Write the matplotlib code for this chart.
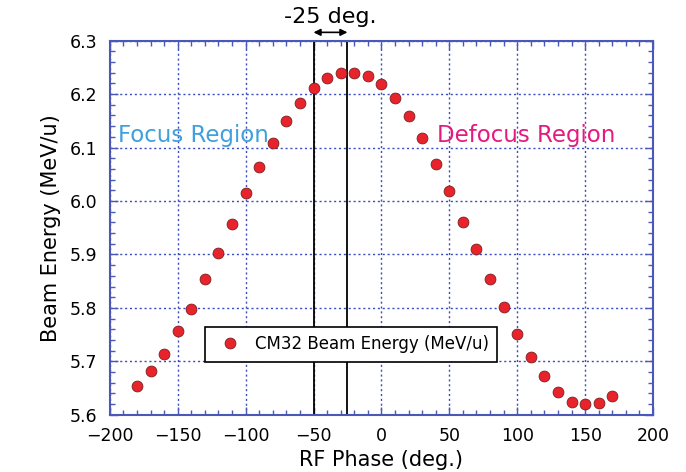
import matplotlib.pyplot as plt
from matplotlib.ticker import MultipleLocator, FormatStrFormatter

# RF phase scan, CM32
phase = [-180, -170, -160, -150, -140, -130, -120, -110, -100, -90, -80, -70,
         -60, -50, -40, -30, -20, -10, 0, 10, 20, 30, 40, 50,
         60, 70, 80, 90, 100, 110, 120, 130, 140, 150, 160, 170]
energy = [5.654, 5.682, 5.714, 5.756, 5.798, 5.854, 5.903, 5.957, 6.015, 6.064, 6.109, 6.150,
          6.184, 6.212, 6.230, 6.239, 6.239, 6.234, 6.218, 6.192, 6.159, 6.118, 6.070, 6.018,
          5.961, 5.910, 5.854, 5.801, 5.751, 5.708, 5.672, 5.642, 5.624, 5.621, 5.622, 5.635]

vlines = [-50, -25]
axcol = '#4a58b8'

plt.rcParams['font.family'] = ['DejaVu Sans']

fig = plt.figure(figsize=(6.86, 4.72), dpi=100)
ax = fig.add_axes([0.160, 0.121, 0.792, 0.793])

ax.grid(True, which='major', color='#3a4cc0', linestyle=(0, (1.5, 2)), linewidth=1.0)
ax.set_axisbelow(True)

for v in vlines:
    ax.axvline(v, color='black', linewidth=1.3, zorder=2)

ax.plot(phase, energy, 'o', color='#e8232b', markeredgecolor='#7a2020',
        markeredgewidth=0.6, markersize=7.8, label='CM32 Beam Energy (MeV/u)', zorder=3)

ax.set_xlim(-200, 200)
ax.set_ylim(5.6, 6.3)
ax.xaxis.set_major_locator(MultipleLocator(50))
ax.xaxis.set_minor_locator(MultipleLocator(10))
ax.yaxis.set_major_locator(MultipleLocator(0.1))
ax.yaxis.set_minor_locator(MultipleLocator(0.02))
ax.yaxis.set_major_formatter(FormatStrFormatter('%.1f'))
ax.tick_params(which='both', direction='in', top=True, right=True, color=axcol,
               labelsize=12.5, labelcolor='black')
ax.tick_params(which='major', length=6, width=1)
ax.tick_params(which='minor', length=3.5, width=1)
ax.tick_params(axis='x', which='major', pad=9)
ax.tick_params(axis='y', which='major', pad=9)
for s in ax.spines.values():
    s.set_color(axcol)
    s.set_linewidth(1.5)

ax.set_xlabel('RF Phase (deg.)', fontsize=15, labelpad=3)
ax.set_ylabel('Beam Energy (MeV/u)', fontsize=15, labelpad=6)

ax.text(-194, 6.122, 'Focus Region', color='#3fa0dc', fontsize=16.5, va='center', ha='left')
ax.text(41, 6.122, 'Defocus Region', color='#e6197f', fontsize=16.5, va='center', ha='left')

ax.annotate('', xy=(-50, 1.022), xytext=(-25, 1.022), xycoords=('data', 'axes fraction'),
            arrowprops=dict(arrowstyle='<|-|>', color='black', lw=1.2, shrinkA=0, shrinkB=0,
                            mutation_scale=10))
ax.text(-37.5, 1.037, '-25 deg.', transform=ax.get_xaxis_transform(), ha='center', va='bottom',
        fontsize=16)

leg = ax.legend(loc='upper left', bbox_to_anchor=(0.175, 0.235), fontsize=12,
                frameon=True, fancybox=False, framealpha=1, edgecolor='black',
                handletextpad=0.5, borderpad=0.5, borderaxespad=0)
leg.get_frame().set_linewidth(1.2)

fig.savefig('out.png', dpi=100)
